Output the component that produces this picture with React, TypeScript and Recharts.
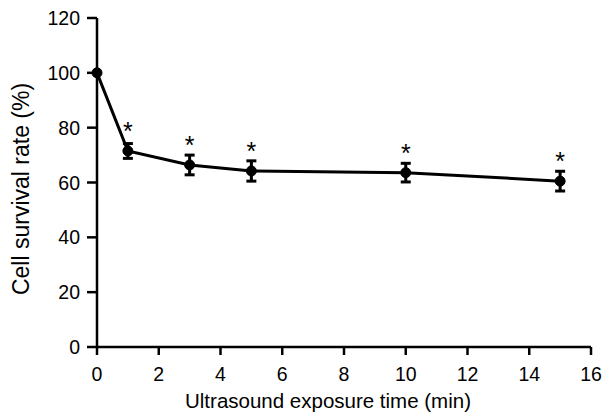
import { LineChart, Line, XAxis, YAxis, ErrorBar, Label } from 'recharts'

const TIMES = [0, 1, 3, 5, 10, 15]
const SURVIVAL = [100, 71.5, 66.4, 64.2, 63.6, 60.5]
const SD = [0, 2.7, 3.6, 3.7, 3.4, 3.6]
const SIGNIFICANT = [false, true, true, true, true, true]
const X_TICKS = [0, 2, 4, 6, 8, 10, 12, 14, 16]
const Y_TICKS = [0, 20, 40, 60, 80, 100, 120]

const FONT = '"Liberation Sans", Arial, sans-serif'

const data = TIMES.map((t, i) => ({ time: t, rate: SURVIVAL[i], sd: SD[i], sig: SIGNIFICANT[i] }))

const axisStyle = { stroke: '#000', strokeWidth: 2.5 }

function XTick(props: any) {
  const { x, payload } = props
  return (
    <text x={x} y={381} textAnchor="middle" fontSize={19.5} fontFamily={FONT} fill="#000">{payload.value}</text>
  )
}

function YTick(props: any) {
  const { y, payload } = props
  return (
    <text x={80} y={y} textAnchor="end" dominantBaseline="central" fontSize={19.5} fontFamily={FONT} fill="#000">{payload.value}</text>
  )
}

function Star(props: any) {
  const { x, y, index } = props
  if (!data[index]?.sig) return null
  return (
    <text x={x} y={y - 11} textAnchor="middle" fontSize={25} fontFamily={FONT} fill="#000">*</text>
  )
}

export default function App() {
  return (
    <div style={{ position: 'absolute', left: 0, top: 0, background: '#fff' }}>
      <LineChart width={604} height={416} data={data} margin={{ top: 18, right: 13, bottom: 39, left: 0 }}>
        <XAxis
          dataKey="time" type="number" domain={[0, 16]} ticks={X_TICKS} height={30}
          axisLine={axisStyle} tickLine={axisStyle} tickSize={8}
          tick={<XTick />}
        >
          <Label
            content={({ viewBox }: any) => (
              <text x={328} y={408} textAnchor="middle" fontSize={20.5} fontFamily={FONT} fill="#000">
                Ultrasound exposure time (min)
              </text>
            )}
          />
        </XAxis>
        <YAxis
          type="number" domain={[0, 120]} ticks={Y_TICKS} width={97}
          axisLine={axisStyle} tickLine={axisStyle} tickSize={10}
          tick={<YTick />}
        >
          <Label
            content={() => (
              <text x={21} y={189} transform="rotate(-90 21 189)" textAnchor="middle" dominantBaseline="central" fontSize={23} fontFamily={FONT} fill="#000">
                Cell survival rate (%)
              </text>
            )}
          />
        </YAxis>
        <Line
          dataKey="rate" stroke="#000" strokeWidth={3} isAnimationActive={false}
          dot={{ r: 5, fill: '#000', stroke: '#000', strokeWidth: 1 }}
          label={<Star />}
        >
          <ErrorBar dataKey="sd" direction="y" width={5} stroke="#000" strokeWidth={3} />
        </Line>
      </LineChart>
    </div>
  )
}
